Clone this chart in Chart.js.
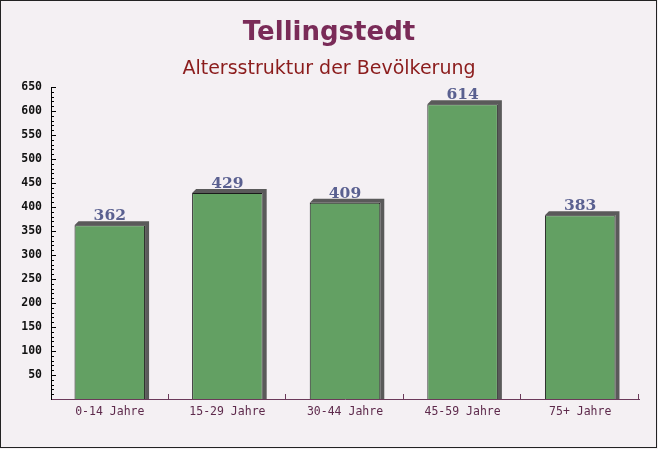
<!DOCTYPE html>
<html>
<head>
<meta charset="utf-8">
<script src="https://cdn.jsdelivr.net/npm/chart.js@4"></script>
<style>
  body { margin: 0; background: #fff; }
  #wrap { width: 658px; height: 449px; }
</style>
</head>
<body>
<div id="wrap"><canvas id="ageChart" width="658" height="449"></canvas></div>
<script>
const categories = ["0-14 Jahre", "15-29 Jahre", "30-44 Jahre", "45-59 Jahre", "75+ Jahre"];
const population = [362, 429, 409, 614, 383];
const yMax = 650;
const titleText = "Tellingstedt";
const subtitleText = "Altersstruktur der Bevölkerung";

// background, frame and titles
const backdrop = {
    id: "backdrop",
    beforeDraw(chart) {
        const ctx = chart.ctx;
        ctx.save();
        ctx.fillStyle = "#f4f0f3";
        ctx.fillRect(0, 0, chart.width, chart.height);
        ctx.strokeStyle = "#222";
        ctx.lineWidth = 1;
        ctx.strokeRect(0.5, 0.5, 656, 447);

        ctx.textAlign = "center";
        ctx.textBaseline = "middle";
        ctx.fillStyle = "#7a2b58";
        ctx.font = "bold 26px 'DejaVu Sans'";
        ctx.fillText(titleText, 329, 33);
        ctx.fillStyle = "#8b1c1c";
        ctx.font = "19px 'DejaVu Sans'";
        ctx.fillText(subtitleText, 329, 69);
        ctx.restore();
    }
};

// 3d shadow behind bars, value labels, tick marks inside the plot
const extras = {
    id: "extras",
    beforeDatasetsDraw(chart) {
        const ctx = chart.ctx;
        const meta = chart.getDatasetMeta(0);
        ctx.save();
        ctx.fillStyle = "#5a5a5a";
        meta.data.forEach(bar => {
            const left = bar.x - bar.width / 2;
            const right = bar.x + bar.width / 2;
            ctx.beginPath();
            ctx.moveTo(left, bar.y);
            ctx.lineTo(left + 4, bar.y - 4);
            ctx.lineTo(right + 4, bar.y - 4);
            ctx.lineTo(right + 4, bar.base);
            ctx.lineTo(right, bar.base);
            ctx.lineTo(right, bar.y);
            ctx.closePath();
            ctx.fill();
        });
        ctx.restore();
    },
    afterDatasetsDraw(chart) {
        const ctx = chart.ctx;
        const meta = chart.getDatasetMeta(0);
        ctx.save();
        ctx.fillStyle = "#5a6090";
        ctx.font = "bold 15.5px 'DejaVu Serif'";
        ctx.textAlign = "center";
        ctx.textBaseline = "alphabetic";
        meta.data.forEach((bar, i) => {
            ctx.fillText(population[i], bar.x, bar.y - 5);
        });
        ctx.restore();
    },
    afterDraw(chart) {
        const ctx = chart.ctx;
        const y = chart.scales.y;
        const area = chart.chartArea;
        ctx.save();
        ctx.lineWidth = 1;
        ctx.strokeStyle = "#000";
        for (let v = 10; v <= yMax; v += 10) {
            const py = Math.round(y.getPixelForValue(v)) + 0.5;
            const len = v % 50 === 0 ? 5 : 3;
            ctx.beginPath();
            ctx.moveTo(area.left, py);
            ctx.lineTo(area.left + len, py);
            ctx.stroke();
        }
        ctx.strokeStyle = "#6b3a5a";
        const step = (area.right - area.left) / categories.length;
        for (let i = 1; i <= categories.length; i++) {
            const px = Math.round(area.left + step * i) - 0.5;
            ctx.beginPath();
            ctx.moveTo(px, area.bottom);
            ctx.lineTo(px, area.bottom - 5);
            ctx.stroke();
        }
        ctx.restore();
    }
};

new Chart(document.getElementById("ageChart"), {
    type: "bar",
    data: {
        labels: categories,
        datasets: [{
            data: population,
            backgroundColor: "#63a063",
            borderColor: "#1a1a1a",
            borderWidth: 1,
            barPercentage: 0.6,
            categoryPercentage: 1
        }]
    },
    options: {
        responsive: false,
        animation: false,
        layout: { padding: { top: 87, right: 19, bottom: 0, left: 0 } },
        plugins: {
            legend: { display: false },
            tooltip: { enabled: false }
        },
        scales: {
            x: {
                grid: { display: false, drawTicks: false },
                border: { color: "#6b3a5a", width: 1 },
                ticks: {
                    color: "#5e2a4c",
                    font: { family: "'DejaVu Sans Mono'", size: 11.5 },
                    padding: 6
                },
                afterFit(scale) { scale.height = 50; }
            },
            y: {
                min: 0,
                max: yMax,
                grid: { display: false, drawTicks: false },
                border: { color: "#000", width: 1 },
                ticks: {
                    stepSize: 50,
                    color: "#111",
                    padding: 9,
                    font: { family: "'DejaVu Sans Mono'", size: 11.5, weight: "bold" },
                    callback: v => v === 0 ? "" : v
                },
                afterFit(scale) { scale.width = 51; }
            }
        }
    },
    plugins: [backdrop, extras]
});
</script>
</body>
</html>
